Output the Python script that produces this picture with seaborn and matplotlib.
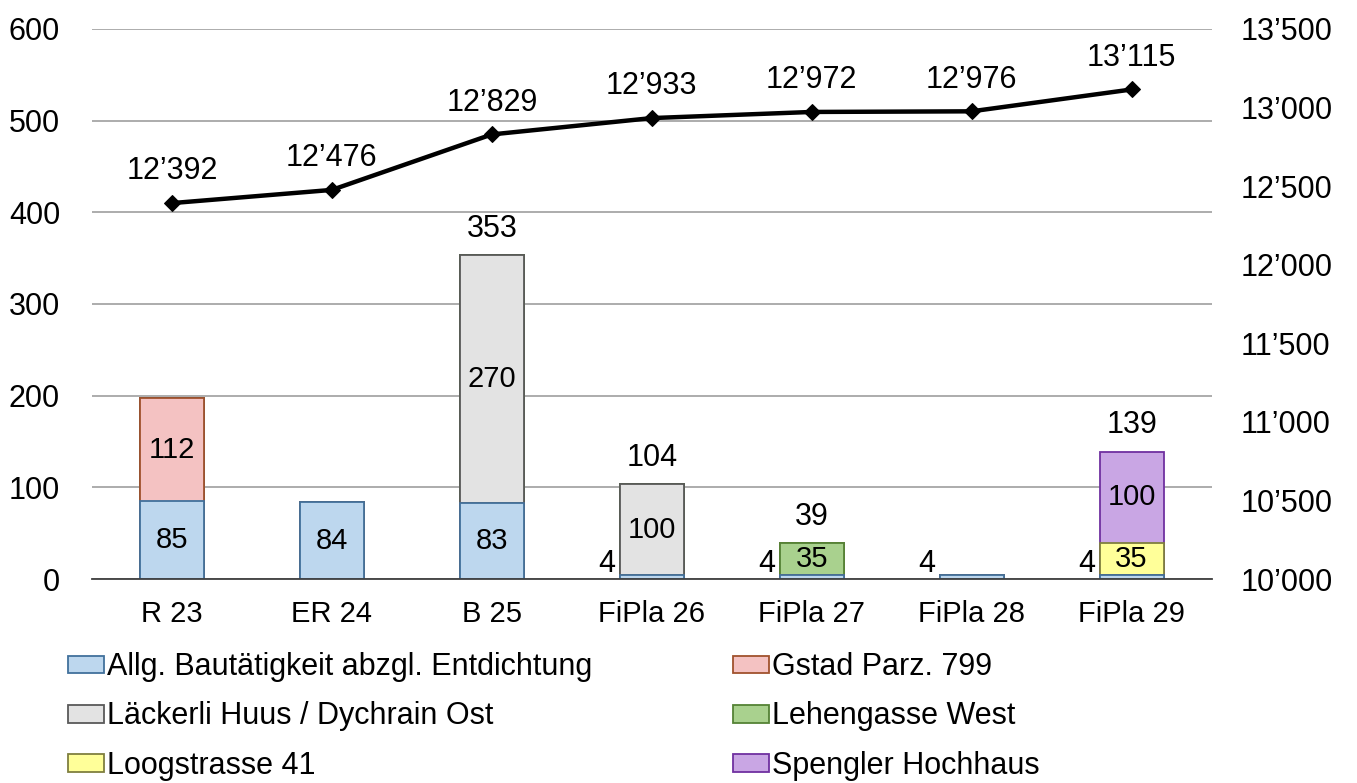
import numpy as np
import pandas as pd
import matplotlib
matplotlib.use("Agg")
import matplotlib.pyplot as plt
import seaborn as sns
from matplotlib.patches import Patch

sns.set_theme(style="white")
plt.rcParams['font.family'] = ['Liberation Sans', 'DejaVu Sans']
plt.rcParams['text.color'] = 'black'
plt.rcParams['xtick.color'] = 'black'
plt.rcParams['ytick.color'] = 'black'

categories = ["R 23", "ER 24", "B 25", "FiPla 26", "FiPla 27", "FiPla 28", "FiPla 29"]
series_names = ["Allg. Bautätigkeit abzgl. Entdichtung", "Gstad Parz. 799",
                "Läckerli Huus / Dychrain Ost", "Lehengasse West",
                "Loogstrasse 41", "Spengler Hochhaus"]
allg = [85, 84, 83, 4, 4, 4, 4]
gstad = [112, 0, 0, 0, 0, 0, 0]
laeckerli = [0, 0, 270, 100, 0, 0, 0]
lehengasse = [0, 0, 0, 0, 35, 0, 0]
loog = [0, 0, 0, 0, 0, 0, 35]
spengler = [0, 0, 0, 0, 0, 0, 100]
population = [12392, 12476, 12829, 12933, 12972, 12976, 13115]
total_labels = [None, None, 353, 104, 39, None, 139]

fills = ["#BDD7EE", "#F4C2C2", "#E3E3E3", "#A9D18E", "#FFFF99", "#C9A6E4"]
edges = ["#41719C", "#A0522D", "#595959", "#548235", "#7F7F3F", "#7030A0"]

series = [allg, gstad, laeckerli, lehengasse, loog, spengler]
cum = np.cumsum(np.array(series, dtype=float), axis=0)

fig = plt.figure(figsize=(13.57, 7.83), dpi=100)
ax = fig.add_axes([0.0678, 0.2605, 0.825, 0.7025])

FS = 22
for i in range(len(series) - 1, -1, -1):
    df = pd.DataFrame({"cat": categories, "val": cum[i]})
    sns.barplot(data=df, x="cat", y="val", color=fills[i], saturation=1,
                edgecolor=edges[i], linewidth=1.3, width=0.4, ax=ax, zorder=2)

ax.set_xlim(-0.5, 6.5)
ax.set_ylim(0, 600)
ax.set_yticks(range(0, 601, 100))
ax.grid(axis="y", color="#A6A6A6", linewidth=1.3, zorder=0)
ax.set_axisbelow(True)
ax.set_xlabel("")
ax.set_ylabel("")
for s in ["left", "right", "top"]:
    ax.spines[s].set_visible(False)
ax.spines["bottom"].set_color("#404040")
ax.spines["bottom"].set_linewidth(1.3)
ax.tick_params(axis="y", length=0, pad=23, labelsize=FS)
ax.tick_params(axis="x", length=0, pad=15, labelsize=FS - 1)

# inner segment labels
for i, s in enumerate(series):
    for j, v in enumerate(s):
        if v <= 0:
            continue
        bottom = cum[i][j] - v
        if v < 10:
            ax.text(j - 0.23, 0, str(v), ha="right", va="bottom", fontsize=FS, color="black")
        else:
            ax.text(j, bottom + v / 2, str(v), ha="center", va="center", fontsize=FS - 1, color="black")

for j, t in enumerate(total_labels):
    if t is not None:
        ax.annotate(str(t), (j, t), xytext=(0, 8), textcoords="offset points",
                    ha="center", va="bottom", fontsize=FS)

ax2 = ax.twinx()
sns.lineplot(x=np.arange(len(categories)), y=population, color="black", linewidth=3.2,
             marker="D", markersize=8, markeredgecolor="black", ax=ax2, zorder=5)
ax2.set_ylim(10000, 13500)
ax2.set_yticks(range(10000, 13501, 500))
ax2.set_yticklabels([f"{v:,}".replace(",", "\u2019") for v in range(10000, 13501, 500)])
ax2.tick_params(axis="y", length=0, pad=21, labelsize=FS)
for s in ["left", "right", "top", "bottom"]:
    ax2.spines[s].set_visible(False)
ax2.set_xlim(-0.5, 6.5)
for j, v in enumerate(population):
    ax2.annotate(f"{v:,}".replace(",", "\u2019"), (j, v), xytext=(0, 12),
                 textcoords="offset points", ha="center", va="bottom", fontsize=FS)

order = [0, 2, 4, 1, 3, 5]
handles = [Patch(facecolor=fills[k], edgecolor=edges[k], linewidth=1.3, label=series_names[k]) for k in order]
fig.legend(handles=handles, loc="upper left", bbox_to_anchor=(0.050, 0.167), ncol=2,
           frameon=False, fontsize=FS, handlelength=1.18, handleheight=0.52,
           handletextpad=0.1, labelspacing=0.63, columnspacing=4.6, borderaxespad=0,
           borderpad=0)

fig.savefig("out.png", dpi=100)
